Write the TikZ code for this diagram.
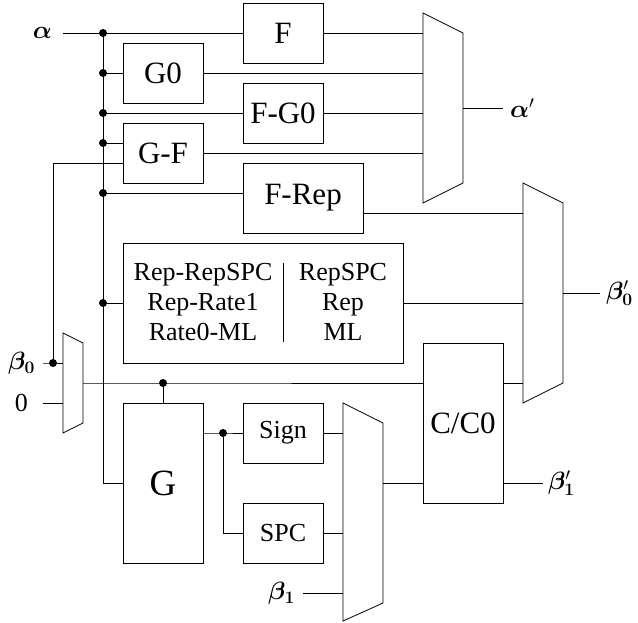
\RequirePackage{fix-cm}
\documentclass[tikz,border=0pt]{standalone}
\usepackage{bm}
\usepackage[no-math]{fontspec}
\setmainfont{Liberation Serif}
\begin{document}
\begin{tikzpicture}[x=1pt,y=-1pt,line width=0.8pt,
  box/.style={draw,inner sep=0pt,font=\fontsize{31}{36}\selectfont},
  sbox/.style={draw,inner sep=0pt,font=\fontsize{26}{30}\selectfont},
  colt/.style={inner sep=0pt,align=center,font=\fontsize{26}{30}\selectfont},
  lab/.style={inner sep=0pt,font=\fontsize{25}{30}\selectfont},
  dot/.style={circle,fill,inner sep=0pt,minimum size=8pt}]
\useasboundingbox (0,0) rectangle (638,622);

% boxes
\node[box,minimum width=80,minimum height=60] (F) at (283,33) {F};
\node[box,minimum width=80,minimum height=60] (G0) at (163,73) {G0};
\node[box,minimum width=80,minimum height=60] (FG0) at (283,113) {F-G0};
\node[box,minimum width=80,minimum height=60] (GF) at (163,153) {G-F};
\node[box,minimum width=120,minimum height=70] (FRep) at (303,198) {F-Rep};
\node[draw,inner sep=0pt,minimum width=280,minimum height=120] (Big) at (263,303) {};
\node[colt] (BL) at (203,302) {Rep-RepSPC\\Rep-Rate1\\Rate0-ML};
\node[colt] (BR) at (343,302) {RepSPC\\Rep\\ML};
\coordinate (divt) at (283,263);
\coordinate (divb) at (283,342);
\draw (divt) -- (divb);
\node[box,minimum width=80,minimum height=160] (CC0) at (463,423) {C/C0};
\node[draw,inner sep=0pt,minimum width=80,minimum height=160,font=\fontsize{37}{40}\selectfont] (G) at (163,483) {G};
\node[sbox,minimum width=80,minimum height=60] (Sign) at (283,433) {Sign};
\node[sbox,minimum width=80,minimum height=60] (SPC) at (283,533) {SPC};

% multiplexers
\draw (423,13) -- (463,33) -- (463,183) -- (423,203) -- cycle;
\draw (523,183) -- (563,203) -- (563,383) -- (523,403) -- cycle;
\draw (63,333) -- (83,343) -- (83,423) -- (63,433) -- cycle;
\draw (343,403) -- (383,423) -- (383,603) -- (343,621) -- cycle;

% mux ports
\coordinate (m1a) at (423,33);
\coordinate (m1b) at (423,73);
\coordinate (m1c) at (423,113);
\coordinate (m1d) at (423,153);
\coordinate (m1o) at (463,108);
\coordinate (m2a) at (523,213);
\coordinate (m2b) at (523,303);
\coordinate (m2c) at (523,383);
\coordinate (m2o) at (563,293);
\coordinate (m0a) at (63,363);
\coordinate (m0b) at (63,403);
\coordinate (m0o) at (83,383);
\coordinate (m3a) at (343,433);
\coordinate (m3b) at (343,533);
\coordinate (m3c) at (343,593);
\coordinate (m3o) at (383,483);

% bus junctions
\coordinate (b1) at (103,33);
\coordinate (b2) at (103,73);
\coordinate (b3) at (103,113);
\coordinate (b4) at (103,143);
\coordinate (b5) at (103,193);
\coordinate (b7) at (103,303);
\coordinate (b8) at (103,483);
\coordinate (gfl) at (53,163);
\coordinate (jb) at (53,363);
\coordinate (jg) at (163,383);
\coordinate (js) at (223,433);
\coordinate (jsb) at (223,533);

% labels
\node[lab,anchor=east,outer sep=11pt] (la) at (63,33) {$\bm{\alpha}$};
\node[lab,anchor=east,outer sep=8pt] (lb0) at (43,363) {$\bm{\beta_0}$};
\node[lab,anchor=east,outer sep=15pt,font=\fontsize{26}{30}\selectfont] (lz) at (43,403) {0};
\node[lab,anchor=east,outer sep=8pt] (lb1) at (303,593) {$\bm{\beta_1}$};
\node[lab,anchor=west,outer sep=7pt] (lap) at (503,108) {$\bm{\alpha}'$};
\node[lab,anchor=west,outer sep=6pt] (lb0p) at (600,293) {$\bm{\beta}'_{\bm{0}}$};
\node[lab,anchor=west,outer sep=5pt] (lb1p) at (543,483) {$\bm{\beta}'_{\bm{1}}$};

% wires
\draw (la) -- (b1);
\draw (b1) -- (F.west);
\draw (b1) -- (b8) -- (G.west);
\draw (b2) -- (G0.west);
\draw (b3) -- (FG0.west);
\draw (b4) -- ([yshift=10pt]GF.west);
\draw (b5) -- (b5 -| FRep.west);
\draw (b7) -- (Big.west);
\draw (F.east) -- (m1a);
\draw (G0.east) -- (m1b);
\draw (FG0.east) -- (m1c);
\draw (GF.east) -- (m1d);
\draw ([yshift=-10pt]GF.west) -- (gfl) -- (jb);
\draw (lb0) -- (jb) -- (m0a);
\draw (lz) -- (m0b);
\draw (m0o) -- (jg) -- ([yshift=40pt]CC0.west);
\draw (jg) -- (G.north);
\draw (js -| G.east) -- (js) -- (Sign.west);
\draw (js) -- (jsb) -- (SPC.west);
\draw (Sign.east) -- (m3a);
\draw (SPC.east) -- (m3b);
\draw (lb1) -- (m3c);
\draw (m3o) -- ([yshift=-60pt]CC0.west);
\draw ([yshift=-60pt]CC0.east) -- (lb1p);
\draw ([yshift=40pt]CC0.east) -- (m2c);
\draw ([yshift=-15pt]FRep.east) -- (m2a);
\draw (Big.east) -- (m2b);
\draw (m1o) -- (lap);
\draw (m2o) -- (lb0p);

% dots
\node[dot] (d1) at (b1) {};
\node[dot] (d2) at (b2) {};
\node[dot] (d3) at (b3) {};
\node[dot] (d4) at (b4) {};
\node[dot] (d5) at (b5) {};
\node[dot] (d7) at (b7) {};
\node[dot] (d8) at (jb) {};
\node[dot] (d9) at (jg) {};
\node[dot] (d10) at (js) {};
\end{tikzpicture}
\end{document}
